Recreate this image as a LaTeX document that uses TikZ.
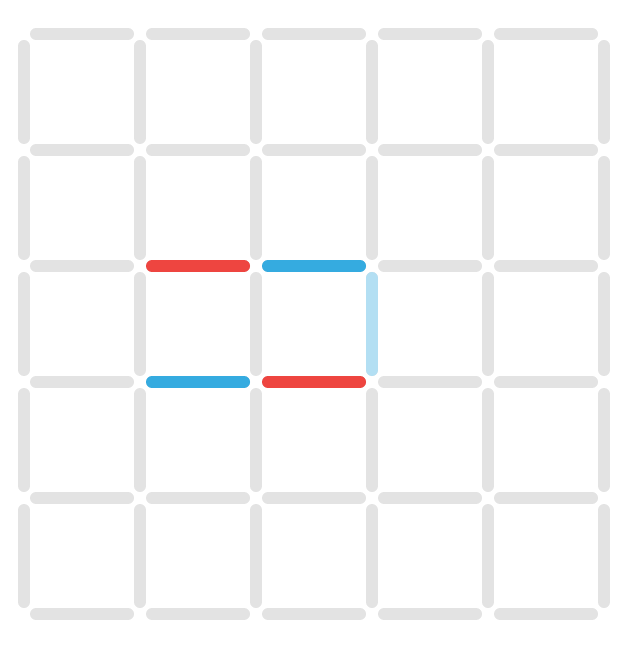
\documentclass[tikz,border=0pt]{standalone}
\usepackage{xcolor}
\usetikzlibrary{positioning}
\definecolor{gridgray}{HTML}{E3E3E3}
\definecolor{movered}{HTML}{EE4540}
\definecolor{moveblue}{HTML}{35ABE0}
\definecolor{movelight}{HTML}{B3DFF3}

\begin{document}
\begin{tikzpicture}[
  x=0.5pt, y=-0.5pt,
  edge/.style={line width=6pt, line cap=round,
               shorten <=6pt, shorten >=6pt, gridgray},
  edgeRed/.style={edge, movered},
  edgeBlue/.style={edge, moveblue},
  edgeLight/.style={edge, movelight},
]
\useasboundingbox (0,0) rectangle (626,656);

% dots
\foreach \i in {0,...,5}{
  \foreach \j in {0,...,5}{
    \coordinate (v\i\j) at ({24+116*\i},{34+116*\j});
  }
}

% empty grid
\foreach \i in {0,...,4}{
  \foreach \j in {0,...,5}{
    \pgfmathtruncatemacro\k{\i+1}
    \draw[edge] (v\i\j) -- (v\k\j);
    \draw[edge] (v\j\i) -- (v\j\k);
  }
}

% played lines
\draw[edgeRed]   (v12) -- (v22);
\draw[edgeBlue]  (v22) -- (v32);
\draw[edgeLight] (v32) -- (v33);
\draw[edgeBlue]  (v13) -- (v23);
\draw[edgeRed]   (v23) -- (v33);
\end{tikzpicture}
\end{document}
